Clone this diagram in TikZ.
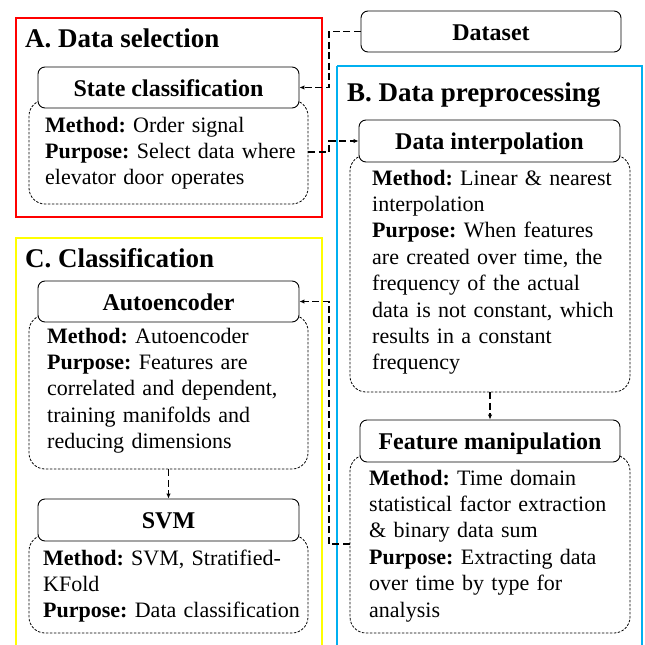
\documentclass[tikz,border=0pt]{standalone}
\usepackage{fontspec}
\setmainfont{Liberation Serif}
\newfontfamily\tnr{Liberation Serif}
\usetikzlibrary{arrows.meta}
\definecolor{fred}{HTML}{FF0000}
\definecolor{fblue}{HTML}{00B0F0}
\definecolor{fyellow}{HTML}{FFFF00}
\begin{document}
\begin{tikzpicture}[x=1pt,y=-1pt,
  frame/.style={line width=2.4pt},
  hdr/.style={draw, line width=0.9pt, rounded corners=7pt, fill=white, inner sep=0pt,
    font=\fontsize{24}{28}\tnr\bfseries, text height=17pt, text depth=0pt},
  bodybox/.style={draw, dash pattern=on 2.5pt off 1.5pt, line width=0.8pt, rounded corners=16pt, inner sep=0pt},
  btext/.style={anchor=base west, align=left, text width=275pt, inner sep=0pt,
    font=\fontsize{22}{26.4}\tnr},
  ttl/.style={anchor=base west, inner sep=0pt, font=\fontsize{27}{30}\tnr\bfseries},
  conn/.style={line width=1.3pt, dash pattern=on 7pt off 3.5pt, -{Latex[length=5pt,width=4.5pt]}}
]
\useasboundingbox (0,0) rectangle (645,645);

% frames
\draw[frame, fred] (16,18) rectangle (322,217);
\draw[frame, fblue] (337,66) -- (337,646) (642,646) -- (642,66) -- (337,66);
\draw[frame, fyellow] (16,646) -- (16,238) -- (322,238) -- (322,646);

% titles
\node[ttl] (ta) at (25,47) {A.\ Data selection};
\node[ttl] (tb) at (347,101) {B.\ Data preprocessing};
\node[ttl] (tc) at (25,267) {C.\ Classification};

% body boxes
\node[bodybox, minimum width=279pt, minimum height=104pt] (scb) at (168.5,152) {};
\node[bodybox, minimum width=280pt, minimum height=237pt] (dib) at (490,273.5) {};
\node[bodybox, minimum width=279pt, minimum height=154pt] (aeb) at (168.5,392) {};
\node[bodybox, minimum width=279pt, minimum height=98pt] (svb) at (168.5,584) {};
\node[bodybox, minimum width=280pt, minimum height=178pt] (fmb) at (490,544) {};

% headers
\node[hdr, minimum width=260pt, minimum height=41pt] (ds) at (491,31.5) {Dataset};
\node[hdr, minimum width=261pt, minimum height=41pt] (sch) at (168.5,87.5) {State classification};
\node[hdr, minimum width=261pt, minimum height=42pt] (dih) at (489.5,141) {Data interpolation};
\node[hdr, minimum width=260pt, minimum height=42pt] (fmh) at (490,441) {Feature manipulation};
\node[hdr, minimum width=261pt, minimum height=41pt] (aeh) at (168.5,301.5) {Autoencoder};
\node[hdr, minimum width=261pt, minimum height=42pt] (svh) at (168.5,520) {SVM};

% body texts
\node[btext] (sct) at (45,132) {\textbf{Method:}\ Order signal\\
\textbf{Purpose:}\ Select data where\\
elevator door operates};
\node[btext] (dit) at (372,185) {\textbf{Method:}\ Linear \& nearest\\
interpolation\\
\textbf{Purpose:}\ When features\\
are created over time, the\\
frequency of the actual\\
data is not constant, which\\
results in a constant\\
frequency};
\node[btext] (fmt) at (369,485) {\textbf{Method:}\ Time domain\\
statistical factor extraction\\
\& binary data sum\\
\textbf{Purpose:}\ Extracting data\\
over time by type for\\
analysis};
\node[btext] (aet) at (47,343) {\textbf{Method:}\ Autoencoder\\
\textbf{Purpose:}\ Features are\\
correlated and dependent,\\
training manifolds and\\
reducing dimensions};
\node[btext] (svt) at (43,565) {\textbf{Method:}\ SVM, Stratified-\\
KFold\\
\textbf{Purpose:}\ Data classification};

% connectors
\coordinate (j1) at (329,0);
\draw[conn] (ds.west) -- (ds.west -| j1) -- (j1 |- sch.east) -- (sch.east);
\draw[conn] (scb.east) -- (scb.east -| j1) -- (j1 |- dih.west) -- (dih.west);
\draw[conn] (fmb.west) -- (fmb.west -| j1) -- (j1 |- aeh.east) -- (aeh.east);
\draw[conn] (aeb.south) -- (svh.north);
\draw[conn] (dib.south) -- (fmh.north);
\end{tikzpicture}
\end{document}
